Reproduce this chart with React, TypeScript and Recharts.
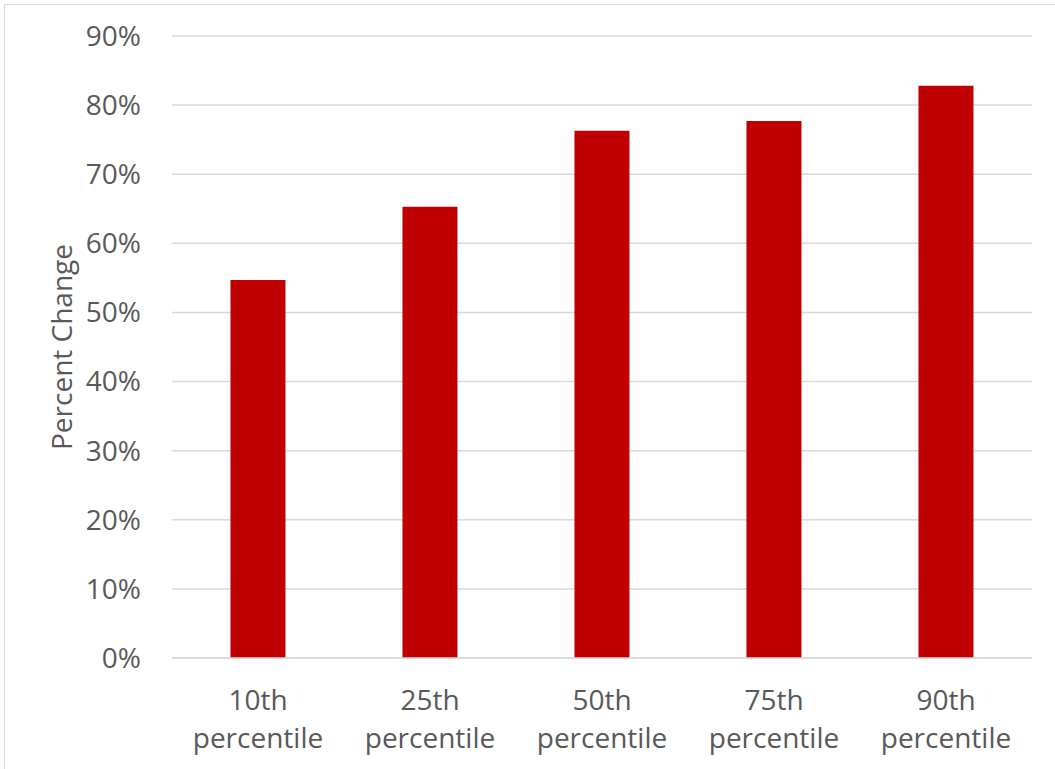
import { BarChart, Bar, XAxis, YAxis, CartesianGrid } from 'recharts';

const categories = ['10th percentile', '25th percentile', '50th percentile', '75th percentile', '90th percentile'];
const percentChange = [0.547, 0.653, 0.763, 0.777, 0.828];
const yTicks = [0, 0.1, 0.2, 0.3, 0.4, 0.5, 0.6, 0.7, 0.8, 0.9];

const data = categories.map((name, i) => ({ name, value: percentChange[i] }));

const FONT = '"Open Sans", Lato, sans-serif';
const TEXT = '#595959';

function CategoryTick({ x, y, payload }: any) {
  const [first, second] = String(payload.value).split(' ');
  return (
    <text x={x} y={y} textAnchor="middle" fill={TEXT} fontSize={28} fontFamily={FONT}>
      <tspan x={x} dy={44}>{first}</tspan>
      <tspan x={x} dy={38}>{second}</tspan>
    </text>
  );
}

export default function App() {
  return (
    <div style={{ position: 'absolute', left: 0, top: 0, width: 1055, height: 769, background: '#fff', overflow: 'hidden' }}>
      <div
        style={{
          position: 'absolute',
          left: 4,
          top: 4,
          width: 1100,
          height: 800,
          border: '1.5px solid #d9d9d9',
        }}
      />
      <BarChart
        width={1055}
        height={769}
        data={data}
        margin={{ top: 36, right: 23, left: 0, bottom: 0 }}
        barCategoryGap="34%"
      >
        <CartesianGrid vertical={false} stroke="#d9d9d9" strokeWidth={1.5} />
        <XAxis
          dataKey="name"
          height={111}
          axisLine={{ stroke: '#d9d9d9', strokeWidth: 1.5 }}
          tickLine={false}
          tick={<CategoryTick />}
          interval={0}
        />
        <YAxis
          width={172}
          domain={[0, 0.9]}
          ticks={yTicks}
          tickFormatter={(v: number) => `${Math.round(v * 100)}%`}
          axisLine={false}
          tickLine={false}
          tickSize={0}
          tickMargin={31}
          tick={{ fill: TEXT, fontSize: 28, fontFamily: FONT }}
          label={{
            value: 'Percent Change',
            angle: -90,
            position: 'insideLeft',
            offset: 62,
            style: { fill: TEXT, fontSize: 28, fontFamily: FONT, textAnchor: 'middle' },
          }}
        />
        <Bar dataKey="value" fill="#c00000" isAnimationActive={false} />
      </BarChart>
    </div>
  );
}
